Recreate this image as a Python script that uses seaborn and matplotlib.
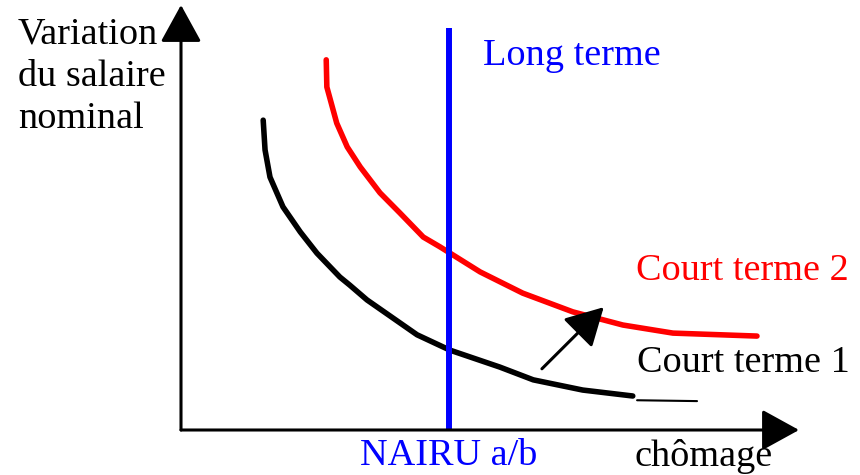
import numpy as np
import pandas as pd
import matplotlib
matplotlib.use("Agg")
import matplotlib.pyplot as plt
import seaborn as sns

# courbes de Phillips (chomage, variation du salaire), echelle 0-100
ct1_chomage = [13.3, 13.6, 14.4, 16.5, 19.3, 22.0, 25.7, 27.3, 30.1, 38.2, 43.5, 51.6, 57.0, 65.0, 73.1]
ct1_salaire = [72.9, 65.9, 59.5, 52.5, 46.6, 41.6, 36.0, 34.1, 30.6, 22.4, 18.8, 14.8, 11.8, 9.4, 8.0]
ct1_queue_chomage = [73.8, 83.5]
ct1_queue_salaire = [7.0, 6.8]

ct2_chomage = [23.5, 23.6, 25.2, 26.9, 29.0, 32.2, 35.4, 39.2, 41.9, 48.4, 55.3, 63.4, 71.5, 79.6, 93.2]
ct2_salaire = [87.1, 80.7, 72.2, 66.6, 61.9, 55.8, 51.1, 45.4, 43.1, 37.2, 32.2, 27.8, 24.7, 22.8, 22.1]

nairu = 43.4
lt_haut = 94.6
fleche_depart = (58.4, 14.4)
fleche_arrivee = (68.4, 28.9)

W, H = 860, 475


def px(x, y):
    # position en pixels -> fraction de la figure
    return x / W, 1 - y / H


sns.set_theme(style="white")
plt.rcParams['font.family'] = ['Liberation Serif', 'DejaVu Serif']

fig = plt.figure(figsize=(8.6, 4.75), dpi=100)
ax = fig.add_axes([181 / W, 45 / H, 618 / W, 425 / H])
ax.set_xlim(0, 100)
ax.set_ylim(0, 100)
ax.axis('off')

ct1 = pd.DataFrame({'chomage': ct1_chomage, 'salaire': ct1_salaire})
ct2 = pd.DataFrame({'chomage': ct2_chomage, 'salaire': ct2_salaire})

sns.lineplot(data=ct1, x='chomage', y='salaire', ax=ax, sort=False, estimator=None,
             color='black', lw=4)
sns.lineplot(x=ct1_queue_chomage, y=ct1_queue_salaire, ax=ax, sort=False, estimator=None,
             color='black', lw=1.5)
sns.lineplot(data=ct2, x='chomage', y='salaire', ax=ax, sort=False, estimator=None,
             color='#ff0000', lw=4)
ax.plot([nairu, nairu], [0, lt_haut], color='#0000ff', lw=4.3, solid_capstyle='butt')

# axes avec fleches
fleche = dict(arrowstyle='-|>,head_length=0.4,head_width=0.22', mutation_scale=58,
              lw=2.2, color='black', shrinkA=0, shrinkB=0)
ax.annotate('', xy=(100, 0), xytext=(0, 0), arrowprops=fleche, annotation_clip=False)
ax.annotate('', xy=(0, 100), xytext=(0, 0), arrowprops=fleche, annotation_clip=False)
ax.annotate('', xy=fleche_arrivee, xytext=fleche_depart,
            arrowprops=fleche, annotation_clip=False)

fs = 27.5
fig.text(*px(18, 128), 'Variation\ndu salaire\nnominal', fontsize=fs, va='baseline',
         ha='left', linespacing=1.3, color='black')
fig.text(*px(483, 65), 'Long terme', fontsize=fs, color='#0000ff', va='baseline')
fig.text(*px(636, 280), 'Court terme 2', fontsize=fs, color='#ff0000', va='baseline')
fig.text(*px(637, 372), 'Court terme 1', fontsize=fs, color='black', va='baseline')
fig.text(*px(360, 465), 'NAIRU a/b', fontsize=fs, color='#0000ff', va='baseline')
fig.text(*px(635, 466), 'chômage', fontsize=fs, color='black', va='baseline')

fig.savefig('out.png', dpi=100)
